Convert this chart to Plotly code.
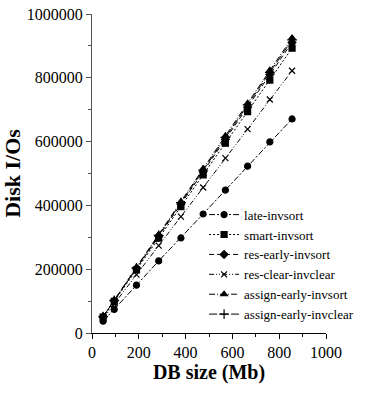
import plotly.graph_objects as go

# Database sizes (Mb)
db_size = [47.5, 95, 190, 285, 380, 475, 570, 665, 760, 855]

# Disk I/O counts per strategy
late_invsort = [37000, 74000, 150000, 226000, 298000, 373000, 448000, 523000, 599000, 671000]
smart_invsort = [50000, 99000, 198000, 297000, 396000, 496000, 595000, 694000, 793000, 893000]
res_early_invsort = [51000, 101000, 202000, 303000, 404000, 506000, 607000, 708000, 810000, 911000]
res_clear_invclear = [46000, 91000, 183000, 274000, 365000, 456000, 548000, 639000, 732000, 822000]
assign_early_invsort = [52000, 103000, 206000, 309000, 412000, 515000, 618000, 720000, 824000, 925000]
assign_early_invclear = [51000, 102000, 204000, 306000, 409000, 511000, 613000, 715000, 817000, 919000]

x_ticks = [0, 200, 400, 600, 800, 1000]
y_ticks = [0, 200000, 400000, 600000, 800000, 1000000]

series = [
    ("late-invsort", late_invsort, "circle", 6, "6px,2px,2px,2px"),
    ("smart-invsort", smart_invsort, "square", 6, "2px,2px"),
    ("res-early-invsort", res_early_invsort, "diamond", 6, "5px,3px"),
    ("res-clear-invclear", res_clear_invclear, "x-thin-open", 6, "5px,2px,1px,2px,1px,2px"),
    ("assign-early-invsort", assign_early_invsort, "triangle-up", 6, "6px,2px,1px,2px"),
    ("assign-early-invclear", assign_early_invclear, "cross-thin-open", 7, "8px,3px"),
]

fig = go.Figure()
for name, vals, sym, size, dash in series:
    fig.add_trace(go.Scatter(
        x=db_size, y=vals, name=name, mode="lines+markers",
        line=dict(color="black", width=1, dash=dash),
        marker=dict(symbol=sym, size=size, color="black",
                    line=dict(color="black", width=1.2)),
    ))

serif = "Liberation Serif"

fig.update_layout(
    width=369, height=393,
    margin=dict(l=92, r=43, t=14, b=60, autoexpand=False),
    paper_bgcolor="white", plot_bgcolor="white",
    font=dict(family=serif, color="black", size=15),
    showlegend=True,
    legend=dict(
        x=0.479, y=0.418, xanchor="left", yanchor="top",
        bgcolor="rgba(0,0,0,0)", borderwidth=0,
        font=dict(family=serif, size=13, color="black"),
        tracegroupgap=0, itemwidth=30,
    ),
)

fig.update_xaxes(
    range=[0, 1000], tickvals=x_ticks, ticktext=[str(v) for v in x_ticks],
    automargin=False,
    showgrid=False, zeroline=False,
    showline=True, linecolor="black", linewidth=1,
    ticks="outside", ticklen=5, tickcolor="black",
    minor=dict(dtick=100, ticks="outside", ticklen=3, tickcolor="black", showgrid=False),
    tickfont=dict(family=serif, size=16),
    title=dict(text="<b>DB size (Mb)</b>", font=dict(family=serif, size=20), standoff=4),
)
fig.update_yaxes(
    range=[0, 1000000], tickvals=y_ticks, ticktext=[str(v) for v in y_ticks],
    automargin=False,
    showgrid=False, zeroline=False,
    showline=True, linecolor="#555", linewidth=1,
    ticks="outside", ticklen=5, tickcolor="#555",
    minor=dict(dtick=100000, ticks="outside", ticklen=3, tickcolor="#555", showgrid=False),
    tickfont=dict(family=serif, size=16),
    title=dict(text="<b>Disk I/Os</b>", font=dict(family=serif, size=22), standoff=6),
)

fig.write_html("out.html")
